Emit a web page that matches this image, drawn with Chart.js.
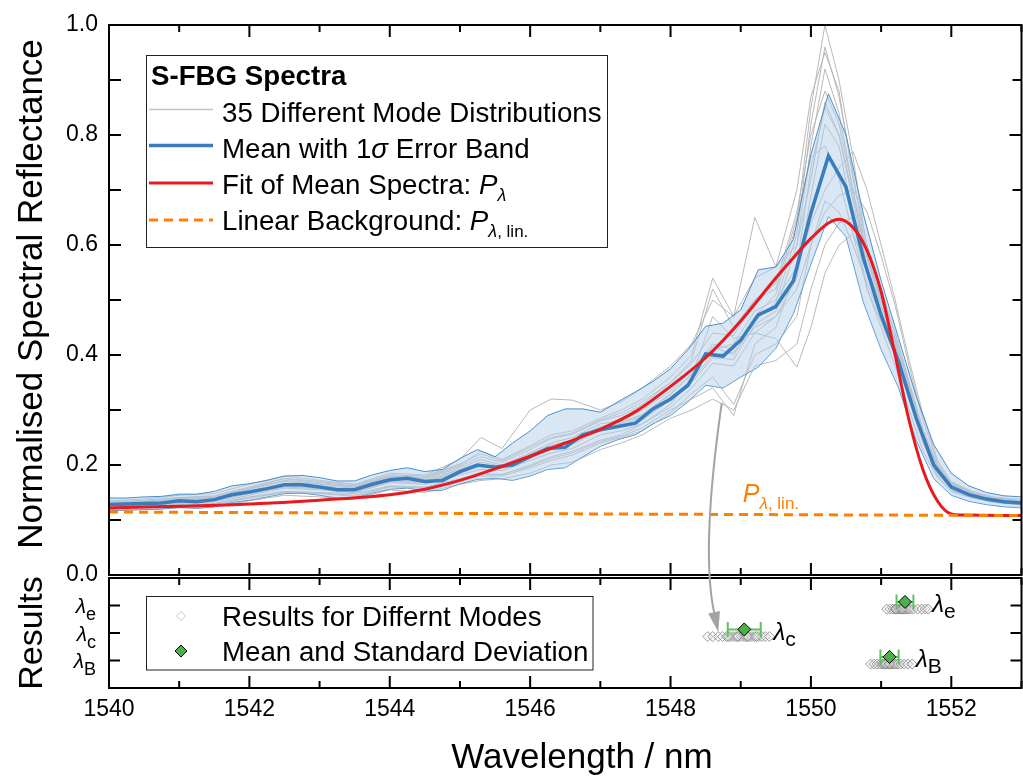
<!DOCTYPE html>
<html>
<head>
<meta charset="utf-8">
<script src="https://cdn.jsdelivr.net/npm/chart.js@4"></script>
<style>
  html, body { margin: 0; padding: 0; background: #fff; overflow: hidden; }
  #wrap { position: relative; width: 1023px; height: 778px; overflow: hidden; }
  canvas { display: block; }
</style>
</head>
<body>
<div id="wrap"><canvas id="c" width="1031" height="778"></canvas></div>
<script>
const xMin = 1540, xMax = 1553;
const xTickVals = [1540, 1542, 1544, 1546, 1548, 1550, 1552];
const yTickVals = [0, 0.2, 0.4, 0.6, 0.8, 1.0];

// mean spectrum with 1 sigma band
const wlMean = [1540, 1540.25, 1540.5, 1540.75, 1541, 1541.25, 1541.5, 1541.75, 1542, 1542.25,
  1542.5, 1542.75, 1543, 1543.25, 1543.5, 1543.75, 1544, 1544.25, 1544.5, 1544.75,
  1545, 1545.25, 1545.5, 1545.75, 1546, 1546.25, 1546.5, 1546.75, 1547, 1547.25,
  1547.5, 1547.75, 1548, 1548.25, 1548.5, 1548.75, 1549, 1549.25, 1549.5, 1549.75,
  1550, 1550.25, 1550.5, 1550.75, 1551, 1551.25, 1551.5, 1551.75, 1552, 1552.25,
  1552.5, 1552.75, 1553];
const meanVals = [0.128, 0.129, 0.130, 0.131, 0.135, 0.133, 0.137, 0.146, 0.151, 0.157,
  0.164, 0.164, 0.160, 0.155, 0.155, 0.165, 0.173, 0.176, 0.170, 0.172,
  0.188, 0.200, 0.196, 0.200, 0.215, 0.230, 0.232, 0.255, 0.264, 0.270,
  0.276, 0.302, 0.320, 0.345, 0.402, 0.398, 0.427, 0.473, 0.488, 0.535,
  0.658, 0.762, 0.705, 0.575, 0.472, 0.387, 0.285, 0.200, 0.160, 0.146,
  0.138, 0.133, 0.131];
const upperVals = [0.140, 0.140, 0.142, 0.143, 0.147, 0.147, 0.152, 0.162, 0.166, 0.172,
  0.180, 0.181, 0.177, 0.171, 0.171, 0.182, 0.190, 0.195, 0.188, 0.192,
  0.212, 0.228, 0.215, 0.240, 0.262, 0.290, 0.302, 0.302, 0.296, 0.315,
  0.333, 0.352, 0.375, 0.410, 0.452, 0.458, 0.482, 0.555, 0.560, 0.610,
  0.765, 0.875, 0.800, 0.655, 0.535, 0.430, 0.325, 0.237, 0.185, 0.162,
  0.150, 0.144, 0.142];
const lowerVals = [0.117, 0.118, 0.119, 0.120, 0.123, 0.121, 0.124, 0.132, 0.136, 0.142,
  0.148, 0.149, 0.145, 0.140, 0.140, 0.149, 0.156, 0.158, 0.153, 0.154,
  0.166, 0.174, 0.176, 0.172, 0.180, 0.192, 0.195, 0.215, 0.234, 0.246,
  0.255, 0.275, 0.290, 0.315, 0.345, 0.340, 0.360, 0.378, 0.412, 0.475,
  0.565, 0.652, 0.615, 0.495, 0.410, 0.340, 0.245, 0.175, 0.145, 0.134,
  0.128, 0.124, 0.122];

// some of the single mode-distribution spectra
const wlGray = [1540, 1540.5, 1541, 1541.5, 1542, 1542.5, 1543, 1543.5, 1544, 1544.5,
  1545, 1545.3, 1545.6, 1546, 1546.3, 1546.6, 1547, 1547.3, 1547.6, 1548,
  1548.3, 1548.6, 1548.9, 1549.2, 1549.5, 1549.8, 1550, 1550.2, 1550.4, 1550.6,
  1550.8, 1551, 1551.2, 1551.4, 1551.6, 1551.8, 1552, 1552.3, 1552.6, 1553];
const gray1 = [.130, .133, .138, .140, .156, .170, .165, .160, .178, .175, .195, .210, .200, .222, .240, .250, .275, .280, .300, .335,
  .372, .420, .410, .470, .510, .640, .850, 1.0, .900, .760, .590, .500, .430, .340, .255, .195, .165, .150, .140, .134];
const gray2 = [.125, .127, .132, .135, .148, .160, .157, .150, .170, .168, .185, .198, .195, .212, .228, .238, .262, .270, .282, .318,
  .350, .395, .392, .455, .480, .600, .780, .920, .840, .700, .560, .480, .415, .330, .250, .190, .158, .144, .136, .130];
const gray3 = [.122, .124, .128, .130, .142, .152, .150, .148, .162, .160, .175, .185, .182, .200, .215, .225, .245, .255, .275, .310,
  .360, .470, .430, .440, .430, .378, .450, .549, .600, .620, .560, .490, .420, .330, .240, .180, .152, .140, .132, .127];
const gray4 = [.135, .138, .145, .148, .165, .180, .172, .165, .185, .182, .210, .250, .230, .300, .320, .318, .300, .315, .340, .380,
  .420, .500, .470, .540, .560, .700, .870, .950, .880, .720, .600, .510, .440, .350, .265, .200, .170, .152, .142, .137];
const gray5 = [.118, .119, .122, .124, .135, .145, .142, .138, .155, .150, .165, .172, .175, .185, .200, .205, .228, .240, .255, .285,
  .300, .320, .300, .380, .390, .420, .520, .600, .640, .650, .600, .520, .440, .350, .255, .190, .158, .143, .135, .129];
const gray6 = [.127, .130, .134, .137, .150, .162, .160, .155, .172, .170, .190, .200, .198, .218, .235, .245, .270, .278, .292, .330,
  .365, .410, .420, .480, .500, .560, .640, .700, .740, .770, .700, .600, .500, .390, .290, .210, .168, .150, .140, .134];
const gray7 = [.124, .126, .130, .133, .145, .158, .155, .150, .168, .165, .182, .192, .190, .208, .222, .230, .255, .262, .275, .305,
  .340, .385, .380, .440, .470, .540, .690, .820, .780, .650, .520, .450, .380, .300, .225, .178, .152, .140, .133, .128];
const gray8 = [.132, .134, .140, .143, .158, .175, .168, .162, .180, .178, .200, .225, .210, .235, .255, .262, .285, .300, .320, .360,
  .400, .540, .470, .650, .560, .600, .720, .860, .800, .690, .580, .500, .430, .345, .260, .200, .168, .150, .140, .135];
const gray9 = [.128, .131, .136, .139, .153, .166, .162, .158, .176, .172, .192, .205, .198, .220, .236, .244, .268, .276, .290, .328,
  .365, .415, .400, .462, .495, .620, .820, .960, .870, .730, .575, .490, .425, .335, .252, .193, .163, .148, .139, .133];
const gray10 = [.120, .122, .126, .128, .140, .150, .148, .143, .160, .158, .172, .180, .180, .195, .208, .218, .240, .250, .262, .295,
  .330, .360, .310, .400, .420, .470, .600, .680, .660, .600, .530, .470, .410, .325, .245, .185, .155, .142, .134, .128];
const gray11 = [.131, .134, .139, .141, .157, .172, .166, .160, .179, .176, .198, .215, .205, .228, .248, .256, .280, .290, .310, .350,
  .390, .520, .450, .500, .530, .660, .800, .880, .820, .700, .580, .500, .430, .345, .258, .198, .166, .150, .140, .135];
const gray12 = [.126, .128, .133, .136, .149, .161, .158, .153, .171, .169, .187, .197, .194, .214, .230, .240, .265, .272, .288, .322,
  .355, .400, .405, .450, .470, .520, .600, .660, .690, .700, .660, .580, .490, .380, .280, .205, .165, .148, .139, .133];
const gray13 = [.133, .136, .141, .144, .160, .176, .170, .164, .182, .180, .202, .220, .208, .232, .250, .258, .282, .295, .315, .350,
  .385, .440, .435, .500, .520, .650, .760, .780, .720, .620, .520, .460, .400, .320, .240, .185, .158, .146, .138, .132];
const gray14 = [.121, .123, .127, .129, .141, .151, .149, .145, .161, .158, .173, .182, .183, .198, .212, .222, .243, .252, .268, .300,
  .320, .340, .290, .420, .450, .560, .740, .850, .800, .680, .560, .480, .415, .330, .248, .188, .156, .142, .134, .128];
const grayLines = [gray1, gray2, gray3, gray4, gray5, gray6, gray7, gray8, gray9, gray10, gray11, gray12, gray13, gray14];

// fit and linear background
const wlFit = [1540, 1541, 1542, 1543, 1544, 1544.5, 1545, 1545.5, 1546, 1546.5,
  1547, 1547.5, 1548, 1548.5, 1549, 1549.5, 1549.75, 1550, 1550.25, 1550.4,
  1550.6, 1550.8, 1551, 1551.2, 1551.4, 1551.6, 1551.8, 1552, 1552.2, 1553];
const fitVals = [0.122, 0.125, 0.129, 0.136, 0.146, 0.156, 0.172, 0.193, 0.216, 0.240,
  0.265, 0.297, 0.343, 0.395, 0.462, 0.540, 0.577, 0.612, 0.640, 0.647,
  0.632, 0.590, 0.515, 0.400, 0.280, 0.190, 0.135, 0.111, 0.109, 0.108];
const wlBg = [1540, 1553];
const bgVals = [0.1145, 0.108];

// results panel: e, c, B
const resultNames = ['e', 'c', 'B'];
const resultLevels = [3, 2, 1];
const resE = [1551.08, 1551.13, 1551.17, 1551.20, 1551.23, 1551.25, 1551.27, 1551.29, 1551.31, 1551.33,
  1551.35, 1551.37, 1551.39, 1551.42, 1551.46, 1551.52, 1551.58, 1551.63, 1551.67, 1551.21, 1551.30];
const resC = [1548.53, 1548.60, 1548.68, 1548.74, 1548.80, 1548.85, 1548.89, 1548.93, 1548.97, 1549.01,
  1549.05, 1549.08, 1549.12, 1549.16, 1549.20, 1549.25, 1549.30, 1549.35, 1549.41, 1548.95, 1549.10, 1548.82, 1549.22];
const resB = [1550.85, 1550.90, 1550.94, 1550.98, 1551.01, 1551.03, 1551.05, 1551.07, 1551.09, 1551.11,
  1551.13, 1551.15, 1551.17, 1551.19, 1551.21, 1551.24, 1551.28, 1551.33, 1551.38, 1551.44, 1551.06, 1551.12];
const resModes = [resE, resC, resB];
const resMean = [1551.34, 1549.05, 1551.12];
const resStd = [0.12, 0.235, 0.13];

const FONT = '"Liberation Sans", Arial, sans-serif';
Chart.defaults.font.family = FONT;
const f = (size, style) => (style || '') + ' ' + size + 'px ' + FONT;

const pts = (xs, ys) => xs.map((v, i) => ({ x: v, y: ys[i] }));

const datasets = [];
grayLines.forEach(g => datasets.push({
  data: pts(wlGray, g), borderColor: '#b9b9b9', borderWidth: 1, pointRadius: 0, order: 20
}));
datasets.push({
  data: pts(wlMean, upperVals), borderColor: '#4a8fcc', borderWidth: 1, pointRadius: 0,
  fill: '+1', backgroundColor: 'rgba(180,208,236,0.5)', order: 15
});
datasets.push({
  data: pts(wlMean, lowerVals), borderColor: '#4a8fcc', borderWidth: 1, pointRadius: 0, order: 15
});
datasets.push({
  data: pts(wlMean, meanVals), borderColor: '#3a7dbf', borderWidth: 3.5, pointRadius: 0, order: 10
});
datasets.push({
  data: pts(wlFit, fitVals), borderColor: '#e8191f', borderWidth: 3, pointRadius: 0,
  cubicInterpolationMode: 'monotone', order: 5
});
datasets.push({
  data: pts(wlBg, bgVals), borderColor: '#ff8000', borderWidth: 3, borderDash: [9, 6], pointRadius: 0, order: 2
});

resModes.forEach((vals, k) => {
  const lvl = resultLevels[k];
  datasets.push({
    yAxisID: 'yr', showLine: false, order: 3,
    data: vals.map(v => ({ x: v, y: lvl - 0.13 })),
    pointStyle: 'rectRot', pointRadius: 5, pointBorderWidth: 1,
    pointBorderColor: 'rgba(130,130,130,0.8)', pointBackgroundColor: 'rgba(235,235,235,0.3)'
  });
  datasets.push({
    yAxisID: 'yr', order: 1,
    data: [{ x: resMean[k] - resStd[k], y: lvl + 0.13 }, { x: resMean[k] + resStd[k], y: lvl + 0.13 }],
    borderColor: '#5ec25e', borderWidth: 2,
    pointStyle: 'line', pointRotation: 90, pointRadius: 7.5, pointBorderWidth: 2, pointBorderColor: '#5ec25e'
  });
  datasets.push({
    yAxisID: 'yr', showLine: false, order: 0,
    data: [{ x: resMean[k], y: lvl + 0.13 }],
    pointStyle: 'rectRot', pointRadius: 6.5, pointBorderWidth: 1,
    pointBorderColor: '#000', pointBackgroundColor: '#4daf4a'
  });
});

function runs(ctx, x, y, parts, align) {
  let w = 0;
  parts.forEach(p => { ctx.font = p[1]; w += ctx.measureText(p[0]).width; });
  let cx = align === 'right' ? x - w : x;
  parts.forEach(p => {
    ctx.font = p[1];
    ctx.fillText(p[0], cx, y + (p[2] || 0));
    cx += ctx.measureText(p[0]).width;
  });
}

function diamond(ctx, x, y, r, fill, stroke) {
  ctx.beginPath();
  ctx.moveTo(x - r, y); ctx.lineTo(x, y - r); ctx.lineTo(x + r, y); ctx.lineTo(x, y + r);
  ctx.closePath();
  if (fill) { ctx.fillStyle = fill; ctx.fill(); }
  ctx.lineWidth = 1; ctx.strokeStyle = stroke; ctx.stroke();
}

const deco = {
  id: 'deco',
  afterDraw(chart) {
    const { ctx } = chart;
    const { x, y, yr } = chart.scales;
    const xl = x.getPixelForValue(xMin), xr = x.getPixelForValue(xMax);
    const t1 = y.getPixelForValue(1), b1 = y.getPixelForValue(0);
    const t2 = yr.getPixelForValue(4), b2 = yr.getPixelForValue(0);
    ctx.save();
    ctx.textAlign = 'left';
    ctx.textBaseline = 'alphabetic';

    // frames
    ctx.strokeStyle = '#000';
    ctx.lineWidth = 2;
    ctx.strokeRect(xl, t1, xr - xl, b1 - t1);
    ctx.strokeRect(xl, t2, xr - xl, b2 - t2);

    // ticks, all pointing inward
    ctx.beginPath();
    const xt = (edge, dir) => {
      for (let v = xMin; v <= xMax; v++) {
        const px = x.getPixelForValue(v), len = v % 2 === 0 ? 12 : 7;
        ctx.moveTo(px, edge); ctx.lineTo(px, edge + dir * len);
      }
    };
    xt(t1, 1); xt(b1, -1); xt(t2, 1); xt(b2, -1);
    for (let i = 1; i < 10; i++) {
      const py = y.getPixelForValue(i / 10);
      const len = i % 2 === 0 ? 12 : 9;
      ctx.moveTo(xl, py); ctx.lineTo(xl + 12, py);
      ctx.moveTo(xr, py); ctx.lineTo(xr - len, py);
    }
    resultLevels.forEach(l => {
      const py = yr.getPixelForValue(l);
      ctx.moveTo(xl, py); ctx.lineTo(xl + 11, py);
      ctx.moveTo(xr, py); ctx.lineTo(xr - 11, py);
    });
    ctx.stroke();

    // axis titles
    ctx.fillStyle = '#000';
    ctx.save();
    ctx.translate(42, (t1 + b1) / 2 - 6);
    ctx.rotate(-Math.PI / 2);
    ctx.textAlign = 'center';
    ctx.font = f(35);
    ctx.fillText('Normalised Spectral Reflectance', 0, 0);
    ctx.restore();
    ctx.save();
    ctx.translate(42, (t2 + b2) / 2);
    ctx.rotate(-Math.PI / 2);
    ctx.textAlign = 'center';
    ctx.font = f(34);
    ctx.fillText('Results', 0, 0);
    ctx.restore();
    ctx.textAlign = 'center';
    ctx.font = f(35);
    ctx.fillText('Wavelength / nm', 582, 768);
    ctx.textAlign = 'left';

    // results axis labels
    resultLevels.forEach((l, k) => {
      const py = yr.getPixelForValue(l);
      runs(ctx, 96, py + 8, [['\u03bb', f(21, 'italic')], [resultNames[k], f(18), 7]], 'right');
    });

    // labels next to the result markers
    resModes.forEach((vals, k) => {
      const px = x.getPixelForValue(Math.max(...vals)) + 4;
      const py = yr.getPixelForValue(resultLevels[k]);
      runs(ctx, px, py + 7, [['\u03bb', f(24, 'italic')], [resultNames[k], f(21), 6]]);
    });

    // P_lambda,lin annotation
    ctx.fillStyle = '#ff8000';
    runs(ctx, x.getPixelForValue(1549.03), y.getPixelForValue(0.133),
      [['P', f(25, 'italic')], ['\u03bb', f(17, 'italic'), 7], [', lin.', f(17), 7]]);

    // arrow from spectra to results
    const S = [x.getPixelForValue(1548.73), y.getPixelForValue(0.313)];
    const C = [x.getPixelForValue(1548.43), y.getPixelForValue(0.046)];
    const E = [x.getPixelForValue(1548.68), yr.getPixelForValue(2.04)];
    const dx = E[0] - C[0], dy = E[1] - C[1], L = Math.hypot(dx, dy);
    const ux = dx / L, uy = dy / L;
    const B = [E[0] - ux * 20, E[1] - uy * 20];
    ctx.strokeStyle = '#a3a3a3';
    ctx.fillStyle = '#a3a3a3';
    ctx.lineWidth = 2;
    ctx.beginPath();
    ctx.moveTo(S[0], S[1]);
    ctx.quadraticCurveTo(C[0], C[1], B[0], B[1]);
    ctx.stroke();
    ctx.beginPath();
    ctx.moveTo(E[0], E[1]);
    ctx.lineTo(B[0] - uy * 6, B[1] + ux * 6);
    ctx.lineTo(B[0] + uy * 6, B[1] - ux * 6);
    ctx.closePath();
    ctx.fill();

    // legend of spectra
    ctx.fillStyle = '#fff';
    ctx.fillRect(146.5, 55.5, 461, 192);
    ctx.lineWidth = 1;
    ctx.strokeStyle = '#222';
    ctx.strokeRect(146.5, 55.5, 461, 192);
    ctx.fillStyle = '#000';
    runs(ctx, 151, 85, [['S-FBG Spectra', f(27.7, 'bold')]]);
    const seg = (yy, col, w, dash) => {
      ctx.beginPath();
      ctx.setLineDash(dash || []);
      ctx.strokeStyle = col; ctx.lineWidth = w;
      ctx.moveTo(149, yy); ctx.lineTo(213, yy); ctx.stroke();
      ctx.setLineDash([]);
    };
    seg(109.5, '#c2c2c2', 1.5);
    seg(145.5, '#3a7dbf', 3.5);
    seg(183, '#e8191f', 3);
    seg(220, '#ff8000', 3, [9, 6]);
    ctx.fillStyle = '#000';
    runs(ctx, 222, 121.5, [['35 Different Mode Distributions', f(27.7)]]);
    runs(ctx, 222, 158, [['Mean with 1', f(27.7)], ['\u03c3', f(27.7, 'italic')], [' Error Band', f(27.7)]]);
    runs(ctx, 222, 193.5, [['Fit of Mean Spectra: ', f(27.7)], ['P', f(27.7, 'italic')], ['\u03bb', f(18, 'italic'), 7]]);
    runs(ctx, 222, 230, [['Linear Background: ', f(27.7)], ['P', f(27.7, 'italic')], ['\u03bb', f(18, 'italic'), 7], [', lin.', f(17), 7]]);

    // legend of results
    ctx.fillStyle = '#fff';
    ctx.fillRect(146.5, 596.5, 446.5, 73.5);
    ctx.strokeStyle = '#222';
    ctx.lineWidth = 1;
    ctx.strokeRect(146.5, 596.5, 446.5, 73.5);
    diamond(ctx, 181, 616, 4.5, '#fff', '#c8c8c8');
    diamond(ctx, 181, 651, 6, '#4daf4a', '#000');
    ctx.fillStyle = '#000';
    runs(ctx, 222, 625.5, [['Results for Differnt Modes', f(27.7)]]);
    runs(ctx, 222, 660.5, [['Mean and Standard Deviation', f(27.7)]]);
    ctx.restore();
  }
};

new Chart(document.getElementById('c'), {
  type: 'line',
  data: { datasets },
  options: {
    responsive: false,
    animation: false,
    devicePixelRatio: 1,
    layout: { padding: { top: 25, right: 2, left: 0, bottom: 0 } },
    plugins: { legend: { display: false }, tooltip: { enabled: false } },
    elements: { line: { tension: 0 } },
    scales: {
      x: {
        type: 'linear', min: xMin, max: xMax,
        grid: { display: false, drawTicks: false }, border: { display: false },
        ticks: { font: { size: 23 }, color: '#000', padding: 8, autoSkip: false, maxRotation: 0, callback: v => String(v) },
        afterBuildTicks: s => { s.ticks = xTickVals.map(v => ({ value: v })); },
        afterFit: s => { s.height = 90; }
      },
      y: {
        type: 'linear', position: 'left', min: -0.20545, max: 1,
        grid: { display: false, drawTicks: false }, border: { display: false },
        ticks: { font: { size: 23 }, color: '#000', padding: 11, callback: v => v.toFixed(1) },
        afterBuildTicks: s => { s.ticks = yTickVals.map(v => ({ value: v })); },
        afterFit: s => { s.width = 109; }
      },
      yr: { type: 'linear', position: 'left', min: 0, max: 24.109, display: false }
    }
  },
  plugins: [deco]
});
</script>
</body>
</html>
